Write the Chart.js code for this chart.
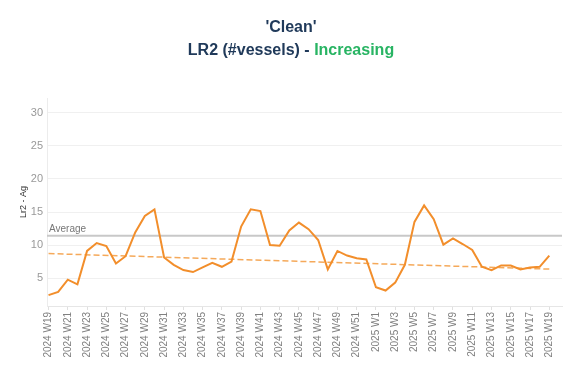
<!DOCTYPE html>
<html>
<head>
<meta charset="utf-8">
<title>LR2 (#vessels)</title>
<script src="https://cdn.jsdelivr.net/npm/chart.js@4.4.1/dist/chart.umd.min.js"></script>
<style>
  html, body { margin: 0; padding: 0; background: #fff; }
  #wrap { position: relative; width: 582px; height: 373px; }
  #title {
    position: absolute; left: 0; top: 15px; width: 582px;
    text-align: center; font: bold 16px Arial, "Liberation Sans", sans-serif;
    line-height: 23px; color: #203a5a;
  }
  #title .trend { color: #28b463; }
  canvas { position: absolute; left: 0; top: 0; }
</style>
</head>
<body>
<div id="wrap">
  <canvas id="chart" width="582" height="373"></canvas>
  <div id="title">'Clean'<br>LR2 (#vessels) - <span class="trend">Increasing</span></div>
</div>
<script>
'use strict';

// weekly labels, 2024 W19 .. 2025 W19
const WEEKS = [
  '2024 W19', '2024 W20', '2024 W21', '2024 W22', '2024 W23', '2024 W24', '2024 W25', '2024 W26',
  '2024 W27', '2024 W28', '2024 W29', '2024 W30', '2024 W31', '2024 W32', '2024 W33', '2024 W34',
  '2024 W35', '2024 W36', '2024 W37', '2024 W38', '2024 W39', '2024 W40', '2024 W41', '2024 W42',
  '2024 W43', '2024 W44', '2024 W45', '2024 W46', '2024 W47', '2024 W48', '2024 W49', '2024 W50',
  '2024 W51', '2024 W52', '2025 W1', '2025 W2', '2025 W3', '2025 W4', '2025 W5', '2025 W6',
  '2025 W7', '2025 W8', '2025 W9', '2025 W10', '2025 W11', '2025 W12', '2025 W13', '2025 W14',
  '2025 W15', '2025 W16', '2025 W17', '2025 W18', '2025 W19',
];

// Lr2 - Ag, one value per week
const VESSELS = [
  2.4, 2.9, 4.75, 4.05, 9.1, 10.3, 9.85, 7.2, 8.3, 11.9,
  14.4, 15.4, 8.1, 7.0, 6.2, 5.9, 6.6, 7.3, 6.7, 7.5,
  12.8, 15.4, 15.15, 10.0, 9.9, 12.2, 13.4, 12.4, 10.75, 6.3,
  9.1, 8.4, 8.0, 7.8, 3.6, 3.1, 4.3, 7.0, 13.5, 16.0,
  13.9, 10.05, 11.0, 10.15, 9.25, 6.7, 6.2, 6.9, 6.9, 6.3,
  6.6, 6.7, 8.4,
];

const AVERAGE = 11.4;
const TREND_START = 8.7;   // trend value at first week
const TREND_END = 6.35;    // trend value at last week
const Y_TICKS = [5, 10, 15, 20, 25, 30];

const FONT = 'Arial, "Liberation Sans", sans-serif';

const lineData = VESSELS.map((v, i) => ({ x: i, y: v }));
const trendData = [
  { x: 0, y: TREND_START },
  { x: WEEKS.length - 1, y: TREND_END },
];

// grey reference line with its label
const averageLine = {
  id: 'averageLine',
  beforeDatasetsDraw(chart) {
    const { ctx, chartArea, scales } = chart;
    const y = scales.y.getPixelForValue(AVERAGE);
    ctx.save();
    ctx.strokeStyle = '#c8c8c8';
    ctx.lineWidth = 2;
    ctx.beginPath();
    ctx.moveTo(chartArea.left, y);
    ctx.lineTo(chartArea.right, y);
    ctx.stroke();
    ctx.fillStyle = '#777';
    ctx.font = '10px ' + FONT;
    ctx.textBaseline = 'bottom';
    ctx.fillText('Average', chartArea.left + 2, y - 2);
    ctx.restore();
  }
};

new Chart(document.getElementById('chart'), {
  type: 'line',
  data: {
    datasets: [
      {
        label: 'Lr2 - Ag',
        data: lineData,
        borderColor: '#f28e2b',
        borderWidth: 2,
        pointRadius: 0,
        tension: 0,
        fill: false,
      },
      {
        label: 'Trend',
        data: trendData,
        borderColor: '#f5a95a',
        borderWidth: 1.5,
        borderDash: [6, 3],
        pointRadius: 0,
        fill: false,
      },
    ]
  },
  options: {
    responsive: false,
    animation: false,
    layout: { padding: { top: 98, right: 20, left: 0, bottom: 0 } },
    plugins: {
      legend: { display: false },
      tooltip: { enabled: false },
    },
    scales: {
      x: {
        type: 'linear',
        min: -0.16,
        max: 53.32,
        afterBuildTicks(axis) {
          axis.ticks = WEEKS.map((w, i) => i).filter(i => i % 2 === 0).map(v => ({ value: v }));
        },
        afterFit(axis) { axis.height = 67; },
        grid: { drawOnChartArea: false, drawTicks: true, tickLength: 4, color: '#e0e0e0' },
        border: { color: '#e6e6e6' },
        ticks: {
          autoSkip: false,
          minRotation: 90,
          maxRotation: 90,
          padding: 2,
          color: '#808080',
          font: { family: FONT, size: 10 },
          callback: v => WEEKS[v],
        }
      },
      y: {
        min: 0.76,
        max: 32.27,
        afterBuildTicks(axis) {
          axis.ticks = Y_TICKS.map(v => ({ value: v }));
        },
        afterFit(axis) { axis.width = 47; },
        grid: { color: '#f0f0f0', drawTicks: false },
        border: { color: '#ececec' },
        title: {
          display: true,
          text: 'Lr2 - Ag',
          color: '#333',
          font: { family: FONT, size: 9 },
          padding: { top: 18, bottom: 0 },
        },
        ticks: {
          padding: 4,
          color: '#999',
          font: { family: FONT, size: 11 },
        }
      }
    }
  },
  plugins: [averageLine]
});
</script>
</body>
</html>
